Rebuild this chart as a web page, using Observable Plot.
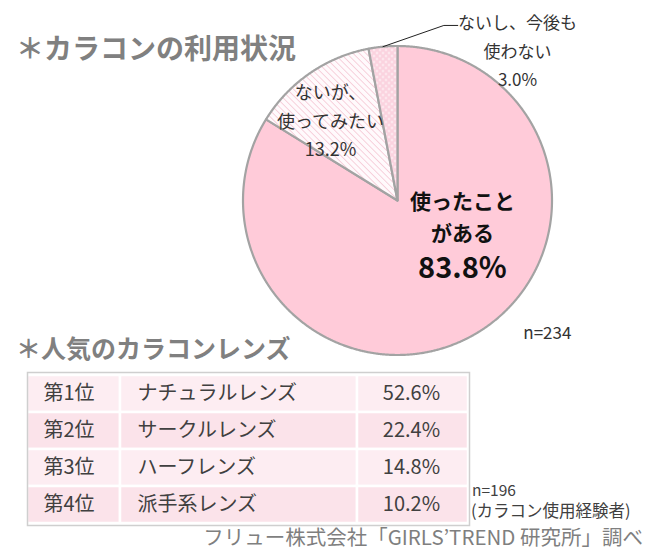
<!DOCTYPE html>
<html><head><meta charset="utf-8">
<script src="https://cdn.jsdelivr.net/npm/d3@7"></script>
<script src="https://cdn.jsdelivr.net/npm/@observablehq/plot@0.6"></script>
<style>
body{margin:0;background:#fff;font-family:"Noto Sans CJK JP",sans-serif;}
#wrap{position:relative;width:650px;height:550px;overflow:hidden;background:#fff;}
.abs{position:absolute;white-space:nowrap;}
</style></head><body>
<svg width="0" height="0" style="position:absolute">
<defs>
<pattern id="hatch" patternUnits="userSpaceOnUse" width="4.5" height="4.5" patternTransform="rotate(-45)">
<rect width="4.5" height="4.5" fill="#fffafc"/>
<line x1="0" y1="0" x2="0" y2="4.5" stroke="#f3bccc" stroke-width="1.3"/>
</pattern>
<pattern id="dots" patternUnits="userSpaceOnUse" width="6" height="6">
<rect width="6" height="6" fill="#fbd3df"/>
<circle cx="1.5" cy="1.5" r="0.9" fill="#ffffff"/>
<circle cx="4.5" cy="4.5" r="0.9" fill="#ffffff"/>
</pattern>
</defs>
</svg>
<div id="wrap">
<div class="abs" id="t1" style="left:16px;top:32px;font-size:28px;line-height:30px;font-weight:700;color:#808080;">＊カラコンの利用状況</div>
<div class="abs" id="t2" style="left:16px;top:334px;font-size:25px;line-height:27px;font-weight:700;color:#808080;">＊人気のカラコンレンズ</div>
<div class="abs" id="n2a" style="left:472px;top:480px;font-size:15.5px;line-height:18px;color:#404040;"></div>
<div class="abs" id="n2b" style="left:471px;top:501px;font-size:16.5px;line-height:19px;color:#404040;"></div>
<div class="abs" id="src" style="right:7px;top:526px;font-size:20.5px;line-height:21px;color:#7f7f7f;"></div>
</div>
<script>
// ---- data ----
const usageLabels = ["使ったこと\nがある", "ないが、\n使ってみたい", "ないし、今後も\n使わない"];
const usageValues = [83.8, 13.2, 3.0];
const usageN = 234;
const rankLabels = ["第1位", "第2位", "第3位", "第4位"];
const lensTypes = ["ナチュラルレンズ", "サークルレンズ", "ハーフレンズ", "派手系レンズ"];
const lensShares = [52.6, 22.4, 14.8, 10.2];
const lensN = 196;
const lensNote = "(カラコン使用経験者)";
const sourceText = "フリュー株式会社「GIRLS’TREND 研究所」調べ";

// ---- pie geometry (unit circle) ----
const arcs = d3.pie().sort(null).value(d => d)(usageValues);
const slices = arcs.map((a, i) => {
  const pts = [{x: 0, y: 0}];
  const n = Math.max(4, Math.ceil((a.endAngle - a.startAngle) / 0.005));
  for (let k = 0; k <= n; k++) {
    const t = a.startAngle + (a.endAngle - a.startAngle) * k / n;
    pts.push({x: Math.sin(t), y: Math.cos(t)});
  }
  pts.push({x: 0, y: 0});
  return pts;
});
const mid = arcs.map(a => (a.startAngle + a.endAngle) / 2);
const fmt = v => v.toFixed(1) + "%";

const sliceFills = ["#ffcbd9", "url(#hatch)", "url(#dots)"];
// label anchors in pie units
const labelAt = [[0.42, -0.0906], [-0.434, 0.531], [0.777, 0.984]];
const rim3 = {x: Math.sin(mid[2]), y: Math.cos(mid[2])};
const leader = [rim3, {x: 0.30, y: 1.133}, {x: 0.39, y: 1.133}];

const pie = Plot.plot({
  width: 650, height: 550, margin: 0,
  x: {domain: [-1, 1], range: [242.5, 551.5], axis: null},
  y: {domain: [-1, 1], range: [354.5, 45.5], axis: null},
  style: {fontFamily: "'Noto Sans CJK JP', sans-serif", background: "transparent", overflow: "visible"},
  marks: [
    ...slices.map((pts, i) => Plot.line(pts, {x: "x", y: "y", fill: sliceFills[i], stroke: "#a3a3a3", strokeWidth: 2.2, strokeLinejoin: "round"})),
    Plot.line(leader, {x: "x", y: "y", stroke: "#222", strokeWidth: 1}),
    Plot.text([0], {x: () => labelAt[0][0], y: () => labelAt[0][1], text: () => usageLabels[0], fontSize: 21, fontWeight: 700, lineHeight: 1.52, fill: "#111"}),
    Plot.text([0], {x: () => labelAt[0][0], y: () => labelAt[0][1], dy: 54, text: () => fmt(usageValues[0]), fontSize: 29, fontWeight: 700, fill: "#111"}),
    Plot.text([1], {x: () => labelAt[1][0], y: () => labelAt[1][1], text: () => usageLabels[1] + "\n" + fmt(usageValues[1]), fontSize: 18, lineHeight: 1.58, fill: "#333"}),
    Plot.text([2], {x: () => labelAt[2][0], y: () => labelAt[2][1], text: () => usageLabels[2] + "\n" + fmt(usageValues[2]), fontSize: 17, lineHeight: 1.68, fill: "#333"}),
    Plot.text([usageN], {x: () => 0.97, y: () => -0.86, text: d => "n=" + d, fontSize: 17, fill: "#333"})
  ]
});
pie.style.position = "absolute"; pie.style.left = "0px"; pie.style.top = "0px";

// ---- table ----
const colEdges = [0, 93, 330, 441];
const rowFills = ["#fdedf2", "#fbe3ea", "#fdedf2", "#fbe3ea"];
const cells = [];
rankLabels.forEach((r, i) => {
  for (let c = 0; c < 3; c++) cells.push({row: r, c, i});
});
const rows = rankLabels.map((r, i) => ({row: r, type: lensTypes[i], share: lensShares[i]}));

const table = Plot.plot({
  width: 442, height: 153, margin: 0,
  x: {domain: [0, 442], range: [0, 442], axis: null},
  y: {domain: rankLabels, range: [1, 152], padding: 0, axis: null},
  style: {fontFamily: "'Noto Sans CJK JP', sans-serif", background: "#fff", overflow: "visible"},
  marks: [
    Plot.barX(cells, {x1: d => colEdges[d.c], x2: d => colEdges[d.c + 1], y: "row", fill: d => rowFills[d.i], stroke: "#ffffff", strokeWidth: 2.5}),
    Plot.frame({stroke: "#cfcfcf", strokeWidth: 1.5}),
    Plot.text(rows, {x: () => 16, y: "row", text: "row", textAnchor: "start", fontSize: 20, fill: "#404040"}),
    Plot.text(rows, {x: () => 110, y: "row", text: "type", textAnchor: "start", fontSize: 20, fill: "#404040"}),
    Plot.text(rows, {x: () => 384, y: "row", text: d => fmt(d.share), textAnchor: "middle", fontSize: 20, fill: "#404040"})
  ]
});
table.style.position = "absolute"; table.style.left = "27px"; table.style.top = "372px";

const wrap = document.getElementById("wrap");
wrap.appendChild(pie);
wrap.appendChild(table);
document.getElementById("n2a").textContent = "n=" + lensN;
document.getElementById("n2b").textContent = lensNote;
document.getElementById("src").textContent = sourceText;
</script>
</body></html>
